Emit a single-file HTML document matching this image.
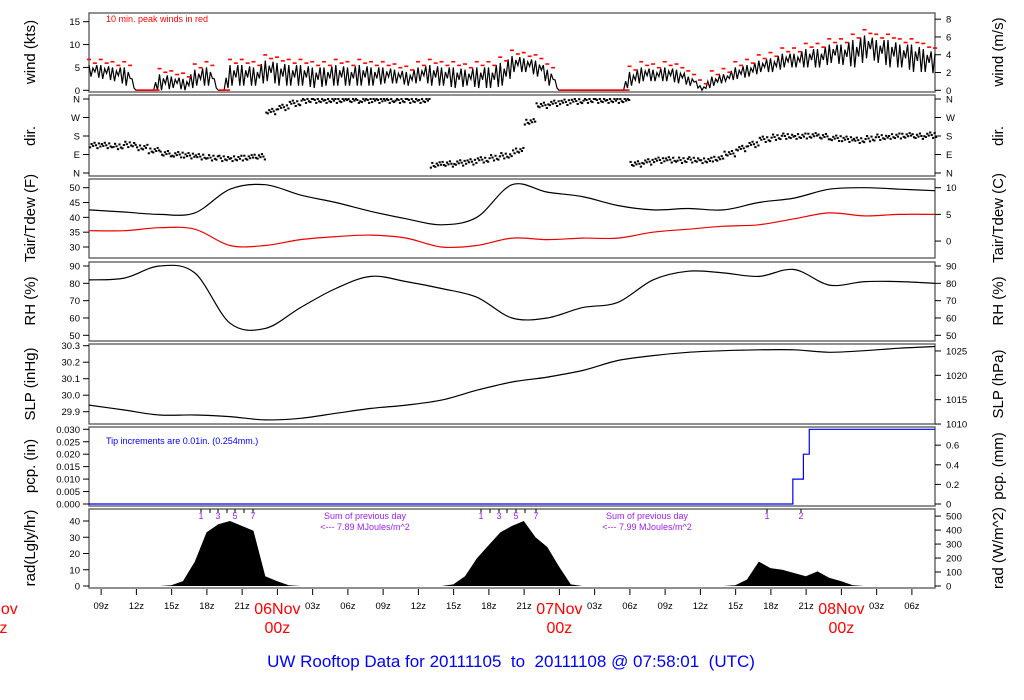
<!DOCTYPE html>
<html><head><meta charset="utf-8"><title>UW Rooftop Data</title>
<style>
html,body{margin:0;padding:0;background:#fff;width:1024px;height:700px;overflow:hidden}
svg{display:block}
text{font-family:"Liberation Sans",Arial,sans-serif}
</style></head>
<body>
<svg id="chart" width="1024" height="700" viewBox="0 0 1024 700" xmlns="http://www.w3.org/2000/svg"></svg>
<script>
// ---- data (hours since 05Nov 07:58 UTC) ----
const windHi = [5.5,5.5,5,5,0,0,3.5,3,2.5,4.5, 5,0,5.5,5.5,5,6.5,6,5.5,5.5,5, 5,5.5,5,5.5,5,5,4.5,4,5,5.5, 5,5,4.5,5,5,6,7.5,7,6.5,4.5, 0,0,0,0,0,0,4,5,4.5,5, 4.5,3,1,3,3.5,5,5.5,6.5,7,8, 8,9,9,10,10,11,12,11,11,10, 10,9,8];
const windLo = [3,2.5,2,1,0,0,0,0.5,0,1, 1,0,1,1,1,2,1,1,1,0.5, 1,1,1,1,1,1.5,1.5,1,2,1, 1,0.5,1,0.5,0.5,1,4,4,3,1, 0,0,0,0,0,0,1,2,2,2, 1.5,1,0,1,2,2.5,3,4,4,5, 5,5,5,6,5.5,5,7,6,5,5, 4,4,3.5];
const windDir = [135,135,130,140,125,110,95,90,85,80, 75,72,72,75,80,300,320,340,355,355, 355,355,355,355,355,355,355,355,355,40, 45,50,55,65,75,85,110,250,330,340, 345,350,355,355,355,355,45,55,63,65, 63,65,62,70,95,120,140,165,175,180, 180,182,178,170,165,160,168,175,180,182, 180,185,185];
const tair = [42.5,41.8,41,41.5,49.5,51,47.5,45,42,39.5,37.5,40,51,48.5,47,44,42.5,43,42.5,45,46.5,49.5,50,49.5,49];
const tdew = [35.5,35.5,36.5,36,30.5,30.5,32.5,33.5,34,33,30,30.5,33,32.5,33,33,35,36,37,37.5,39.5,41.5,40.5,41,41];
const rh = [82,83,90,86,57,54,66,77,84,81,77,72,60,60,66,69,82,87,86,84,88,79,81,81,80];
const slp = [29.94,29.91,29.88,29.88,29.87,29.85,29.86,29.89,29.92,29.94,29.97,30.03,30.08,30.11,30.15,30.21,30.24,30.26,30.27,30.275,30.275,30.26,30.27,30.285,30.295];
const rad = [0,0,0,0,0,0,0,0.5,3,15, 33,38,40,37,34,6,3,0.5,0,0, 0,0,0,0,0,0,0,0,0,0, 0,1,6,17,25,33,37,40,30,24, 12,1,0,0,0,0,0,0,0,0, 0,0,0,0,0,0.5,4,15,11,10, 8,6,9,5,3,0.5,0,0,0,0, 0,0,0];
const tipTimes = [59.9,60.8,61.3];
const tipSize = 0.01;
const windTicks = [0,5,10,15];
const windMsTicks = [0,2,4,6,8];
const dirLabels = ["N","E","S","W","N"];
const tairTicks = [30,35,40,45,50];
const tairCTicks = [0,5,10];
const rhTicks = [50,60,70,80,90];
const slpTicks = [29.9,30.0,30.1,30.2,30.3];
const hpaTicks = [1010,1015,1020,1025];
const pcpTicks = [0,0.005,0.01,0.015,0.02,0.025,0.03];
const mmTicks = [0,0.2,0.4,0.6];
const radTicks = [0,10,20,30,40];
const wm2Ticks = [0,100,200,300,400,500];

// ---- geometry ----
const X0=89, X1=935, T0=0, T1=72;
const xs = t => X0 + (t-T0)/(T1-T0)*(X1-X0);
const lin = (d0,d1,r0,r1) => v => r0 + (v-d0)/(d1-d0)*(r1-r0);
const yWind = lin(0,15,90.3,21.7);
const yDir = lin(0,360,173,99);
const yT = lin(30,50,247,187.7);
const yRH = lin(50,90,335.3,266);
const ySLP = lin(29.9,30.3,411.7,345.7);
const yPcp = lin(0,0.03,504,429.3);
const yRad = lin(0,40,586,521);
const panels = [[13,92],[95,176],[179,258],[262,341],[344,424],[427,506],[509,588]];

const svg = document.getElementById('chart');
const NS='http://www.w3.org/2000/svg';
function mk(tag, attrs, parent){ const e=document.createElementNS(NS,tag); for(const k in attrs) e.setAttribute(k,attrs[k]); (parent||svg).appendChild(e); return e; }
function txt(s, x, y, o, parent){ const e=mk('text',Object.assign({x:x,y:y,'font-size':9.5,fill:'#000'},o||{}),parent); e.textContent=s; return e; }

const pnames=['wind-panel','direction-panel','temperature-panel','rh-panel','pressure-panel','precip-panel','radiation-panel'];
panels.forEach((p,i)=>{
  const r=mk('rect',{x:X0,y:p[0],width:X1-X0,height:p[1]-p[0],fill:'none',stroke:'#555','stroke-width':1.3});
  
  
});

function leftAxis(ticks, yf, fmt, name){
  const g=mk('g',{});
  
  
  ticks.forEach((v,i)=>{ const y=yf(v); mk('line',{x1:X0-6,x2:X0,y1:y,y2:y,stroke:'#000'},g); txt(fmt(v,i),X0-9,y+3.5,{'text-anchor':'end'},g); });
}
function rightAxis(ticks, yf, fmt, name){
  const g=mk('g',{});
  
  
  ticks.forEach((v,i)=>{ const y=yf(v); mk('line',{x1:X1,x2:X1+6,y1:y,y2:y,stroke:'#000'},g); txt(fmt(v,i),X1+11,y+3.5,{},g); });
}
function vtitle(s,x,yc,name){ const e=txt(s,0,0,{'font-size':15,'text-anchor':'middle',transform:`translate(${x},${yc}) rotate(-90)`});   }

leftAxis(windTicks,yWind,v=>v,'wind-left-axis');
rightAxis(windMsTicks,v=>yWind(v*1.94384),v=>v,'wind-right-axis');
leftAxis([0,90,180,270,360],yDir,(v,i)=>dirLabels[i],'dir-left-axis');
rightAxis([0,90,180,270,360],yDir,(v,i)=>dirLabels[i],'dir-right-axis');
leftAxis(tairTicks,yT,v=>v,'temp-left-axis');
rightAxis(tairCTicks,v=>yT(v*9/5+32),v=>v,'temp-right-axis');
leftAxis(rhTicks,yRH,v=>v,'rh-left-axis');
rightAxis(rhTicks,yRH,v=>v,'rh-right-axis');
leftAxis(slpTicks,ySLP,v=>v.toFixed(1),'slp-left-axis');
rightAxis(hpaTicks,v=>ySLP(v/33.8639),v=>v,'slp-right-axis');
leftAxis(pcpTicks,yPcp,v=>v.toFixed(3),'pcp-left-axis');
rightAxis(mmTicks,v=>yPcp(v/25.4),v=>v,'pcp-right-axis');
leftAxis(radTicks,yRad,v=>v,'rad-left-axis');
rightAxis(wm2Ticks,v=>yRad(v*3600/41840),v=>v,'rad-right-axis');

const LT=35, RT=1003;
vtitle('wind (kts)',LT,52,'wind-y-title'); vtitle('wind (m/s)',RT,52,'wind-right-title');
vtitle('dir.',LT,136,'dir-y-title'); vtitle('dir.',RT,136,'dir-right-title');
vtitle('Tair/Tdew (F)',LT,218,'temp-y-title'); vtitle('Tair/Tdew (C)',RT,218,'temp-right-title');
vtitle('RH (%)',LT,301,'rh-y-title'); vtitle('RH (%)',RT,301,'rh-right-title');
vtitle('SLP (inHg)',LT,384,'slp-y-title'); vtitle('SLP (hPa)',RT,384,'slp-right-title');
vtitle('pcp. (in)',LT,466,'pcp-y-title'); vtitle('pcp. (mm)',RT,466,'pcp-right-title');
vtitle('rad(Lgly/hr)',LT,548,'rad-y-title'); vtitle('rad (W/m^2)',RT,548,'rad-right-title');

// wind trace
let wpts=[];
for(let i=0;i<windHi.length-1;i++){
  const h=windHi[i], l=windLo[i], n=windLo[i+1], H=windHi[i+1];
  const seq=[h,l,(h*0.75+l*0.25),(l*0.6+h*0.4),(H*0.5+h*0.5),(l*0.5+n*0.5)];
  seq.forEach((v,k)=>wpts.push(xs(i+k/6).toFixed(1)+','+yWind(v).toFixed(1)));
}
wpts.push(xs(72)+','+yWind(windHi[72]));
let e=mk('polyline',{points:wpts.join(' '),fill:'none',stroke:'#000','stroke-width':1.2});
 
const peaks=mk('g',{fill:'#f00'});
 
for(let i=0;i<windHi.length;i++){
  if(windHi[i]>0){
    mk('rect',{x:xs(i)-2,y:yWind(windHi[i]+1.2)-1,width:4,height:1.6},peaks);
    if(i<72) mk('rect',{x:xs(i+0.5)-2,y:yWind(windHi[i]+0.4)-1,width:4,height:1.6},peaks);
  } else if(i<72){
    mk('rect',{x:xs(i),y:yWind(0)-1,width:xs(i+1)-xs(i),height:1.6},peaks);
  }
}
e=txt('10 min. peak winds in red',106,22,{'font-size':9,fill:'#f00'});
 

// direction dots
const dg=mk('g',{fill:'#000'});
 
const offs=[-10,6,-3,12,0,-14,9,-6];
for(let i=0;i<windDir.length;i++){
  for(let k=0;k<8;k++){
    const t=i+k/8; if(t>72) break;
    let d=windDir[i]+offs[(k+i)%8]; if(d>360) d=360; if(d<0) d=0;
    mk('rect',{x:xs(t),y:yDir(d)-1,width:2.2,height:2},dg);
  }
}

// smooth lines through 3-hourly values
function line3(arr,yf,color,name){
  const P=arr.map((v,i)=>[xs(i*3),yf(v)]);
  let d='M'+P[0][0].toFixed(1)+','+P[0][1].toFixed(1);
  for(let i=0;i<P.length-1;i++){
    const p0=P[Math.max(0,i-1)],p1=P[i],p2=P[i+1],p3=P[Math.min(P.length-1,i+2)];
    const c1=[p1[0]+(p2[0]-p0[0])/6,p1[1]+(p2[1]-p0[1])/6];
    const c2=[p2[0]-(p3[0]-p1[0])/6,p2[1]-(p3[1]-p1[1])/6];
    d+=` C${c1[0].toFixed(1)},${c1[1].toFixed(1)} ${c2[0].toFixed(1)},${c2[1].toFixed(1)} ${p2[0].toFixed(1)},${p2[1].toFixed(1)}`;
  }
  const l=mk('path',{d:d,fill:'none',stroke:color,'stroke-width':1.2});
   
}
line3(tair,yT,'#000','tair-line');
line3(tdew,yT,'#e00','tdew-line');
line3(rh,yRH,'#000','rh-line');
line3(slp,ySLP,'#000','slp-line');

// precip step
let pp=[xs(0)+','+yPcp(0)], acc=0;
tipTimes.forEach(t=>{ pp.push(xs(t)+','+yPcp(acc)); acc+=tipSize; pp.push(xs(t)+','+yPcp(acc)); });
pp.push(xs(72)+','+yPcp(acc));
e=mk('polyline',{points:pp.join(' '),fill:'none',stroke:'#00f','stroke-width':1.2});
 
e=txt('Tip increments are 0.01in. (0.254mm.)',106,444,{'font-size':9,fill:'#00f'});
 

// radiation area
let rp=[xs(0)+','+yRad(0)];
rad.forEach((v,i)=>rp.push(xs(i).toFixed(1)+','+yRad(v).toFixed(1)));
rp.push(xs(72)+','+yRad(0));
e=mk('polygon',{points:rp.join(' '),fill:'#000'});
 

const purple='#a020f0';
function hourMarks(xsList, labels){
  xsList.forEach((x,i)=>{ mk('line',{x1:x,x2:x,y1:509,y2:513,stroke:'#000'}); if(labels[i]) txt(labels[i],x,519,{'font-size':9,fill:purple,'text-anchor':'middle'}); });
}
hourMarks([201,210,218,227,235,244,253],['1','','3','','5','','7']);
hourMarks([481,490,499,507,516,525,536],['1','','3','','5','','7']);
hourMarks([767,801],['1','2']);
[['Sum of previous day',365,519],['<--- 7.89 MJoules/m^2',365,530],['Sum of previous day',647,519],['<--- 7.99 MJoules/m^2',647,530]].forEach((a,i)=>{
  const t=txt(a[0],a[1],a[2],{'font-size':9,fill:purple,'text-anchor':'middle'});
   
});

// x axis
const xg=mk('g',{});
 
for(let h=9; h<=7.967+72+24; h+=3){
  const t=h-7.967; if(t>72) break; const x=xs(t);
  mk('line',{x1:x,x2:x,y1:589,y2:595,stroke:'#000'},xg);
  const hh=h%24;
  if(hh!==0) txt((hh<10?'0':'')+hh+'z',x,609,{'font-size':9.5,'text-anchor':'middle'},xg);
}
[['05Nov',-8.03],['06Nov',16.03],['07Nov',40.03],['08Nov',64.03]].forEach(d=>{
  const x=xs(d[1]);
  txt(d[0],x,614,{'font-size':16,fill:'#f00','text-anchor':'middle'},xg);
  txt('00z',x,633,{'font-size':16,fill:'#f00','text-anchor':'middle'},xg);
});

e=txt('UW Rooftop Data for 20111105  to  20111108 @ 07:58:01  (UTC)',511,667,{'font-size':17,fill:'#00f','text-anchor':'middle',style:'white-space:pre'});
 
</script>
</body></html>
